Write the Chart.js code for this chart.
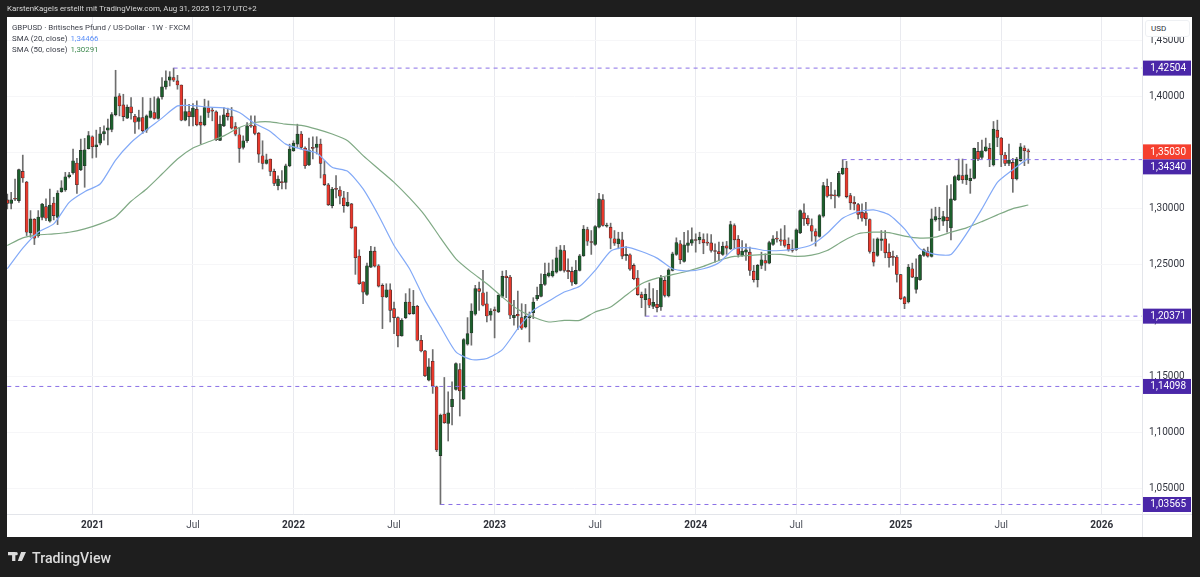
<!DOCTYPE html>
<html>
<head>
<meta charset="utf-8">
<title>GBPUSD 1W</title>
<script src="https://cdn.jsdelivr.net/npm/chart.js@4"></script>
<style>
    html, body { margin: 0; padding: 0; background: #1e1e1e; overflow: hidden; }
    #wrap { position: relative; width: 1200px; height: 577px; font-family: Roboto, sans-serif; }
    #wrap canvas { position: absolute; left: 0; top: 0; }
    .txt { position: absolute; white-space: nowrap; }
    #credit { left: 7px; top: 3px; font-size: 7.9px; line-height: 12px; color: #d8d8d8; }
    .leg { left: 12px; font-size: 7.9px; line-height: 11px; color: #3a3d47; }
    .leg span { margin-left: 3px; }
    #usd { left: 1145px; top: 20px; width: 45px; height: 17px; box-sizing: border-box; background: #fff;
           border: 1px solid #eef0f3; border-radius: 3px; color: #2e3038; font-size: 8px; line-height: 15px; padding-left: 5px; }
    #logo { left: 32px; top: 548px; font-size: 14.2px; line-height: 20px; font-weight: 500; color: #dcdcdc; }
    #mark { position: absolute; left: 8px; top: 552px; }
</style>
</head>
<body>
<div id="wrap">
    <canvas id="gbpChart" width="1200" height="577"></canvas>
    <div class="txt" id="credit">KarstenKagels erstellt mit TradingView.com, Aug 31, 2025 12:17 UTC+2</div>
    <div class="txt leg" style="top:22px">GBPUSD · Britisches Pfund / US-Dollar · 1W · FXCM</div>
    <div class="txt leg" style="top:33px">SMA (20, close)<span style="color:#5b8ff9">1,34466</span></div>
    <div class="txt leg" style="top:44px">SMA (50, close)<span style="color:#3f8a50">1,30291</span></div>
    <div class="txt" id="usd">USD</div>
    <svg id="mark" width="18" height="10" viewBox="0 0 22 12"><path fill="#dcdcdc" d="M0 0h9v11H5V4H0zM10 0a2 2 0 1 1 0 4a2 2 0 1 1 0-4M16 0h6l-5 11h-5z"/></svg>
    <div class="txt" id="logo">TradingView</div>
</div>

<script>
// Weekly candles (week 0 is the first bar at the left edge)
const opens = [
    1.3074,1.3044,1.3086,1.3068,1.3329,1.3234,1.2780,1.2902,1.2756,1.2919,
    1.3014,1.2884,1.3047,1.2919,1.3148,1.3163,1.3281,1.3317,1.3403,1.3344,
    1.3379,1.3531,1.3638,1.3549,1.3581,1.3664,1.3697,1.3703,1.3836,1.4002,
    1.3922,1.3804,1.3905,1.3821,1.3774,1.3810,1.3697,1.3810,1.3854,1.3801,
    1.3994,1.4083,1.4142,1.4166,1.4136,1.4100,1.3786,1.3863,1.3815,1.3884,
    1.3768,1.3744,1.3896,1.3869,1.3860,1.3605,1.3735,1.3848,1.3818,1.3729,
    1.3655,1.3543,1.3602,1.3735,1.3735,1.3670,1.3468,1.3400,1.3439,1.3329,
    1.3201,1.3231,1.3231,1.3379,1.3513,1.3572,1.3662,1.3537,1.3386,1.3537,
    1.3543,1.3573,1.3300,1.3208,1.3024,1.3172,1.3163,1.3092,1.3024,1.3039,
    1.2834,1.2573,1.2344,1.2231,1.2475,1.2617,1.2487,1.2311,1.2208,1.2273,
    1.2104,1.2024,1.1861,1.2024,1.2163,1.2060,1.2125,1.1822,1.1727,1.1466,
    1.1635,1.1407,1.0793,1.1164,1.1080,1.1229,1.1383,1.1561,1.1297,1.1786,
    1.1887,1.2054,1.2282,1.2246,1.2148,1.2045,1.2089,1.2074,1.2214,1.2395,
    1.2386,1.2024,1.2054,1.2024,1.1941,1.2024,1.2068,1.2193,1.2214,1.2321,
    1.2395,1.2395,1.2430,1.2445,1.2623,1.2445,1.2436,1.2327,1.2445,1.2576,
    1.2810,1.2698,1.2677,1.2831,1.3077,1.2840,1.2831,1.2727,1.2683,1.2718,
    1.2576,1.2585,1.2490,1.2377,1.2229,1.2184,1.2193,1.2125,1.2143,1.2119,
    1.2356,1.2217,1.2445,1.2588,1.2683,1.2525,1.2668,1.2689,1.2721,1.2718,
    1.2721,1.2691,1.2691,1.2623,1.2614,1.2588,1.2665,1.2638,1.2846,1.2724,
    1.2579,1.2608,1.2608,1.2439,1.2362,1.2490,1.2534,1.2510,1.2677,1.2727,
    1.2718,1.2718,1.2677,1.2638,1.2632,1.2780,1.2958,1.2911,1.2846,1.2792,
    1.2748,1.2929,1.3196,1.3119,1.3113,1.3107,1.3306,1.3359,1.3113,1.3053,
    1.3033,1.2964,1.2958,1.2899,1.2608,1.2579,1.2712,1.2727,1.2608,1.2564,
    1.2564,1.2407,1.2202,1.2163,1.2460,1.2276,1.2362,1.2579,1.2614,1.2570,
    1.2896,1.2902,1.2884,1.2920,1.2825,1.3074,1.3255,1.3291,1.3252,1.3246,
    1.3267,1.3507,1.3454,1.3513,1.3534,1.3386,1.3697,1.3626,1.3475,1.3400,
    1.3409,1.3261,1.3424,1.3537,1.3510
];
const closes = [
    1.3044,1.3074,1.3080,1.3344,1.3270,1.2786,1.2905,1.2733,1.2922,1.3038,
    1.2911,1.3029,1.2934,1.3136,1.3181,1.3281,1.3299,1.3424,1.3210,1.3516,
    1.3522,1.3649,1.3549,1.3566,1.3664,1.3685,1.3718,1.3836,1.3994,1.3913,
    1.3818,1.3902,1.3851,1.3768,1.3810,1.3691,1.3824,1.3869,1.3801,1.3979,
    1.4083,1.4136,1.4172,1.4142,1.4100,1.3786,1.3863,1.3818,1.3893,1.3744,
    1.3741,1.3899,1.3854,1.3866,1.3611,1.3750,1.3833,1.3818,1.3715,1.3661,
    1.3534,1.3602,1.3735,1.3732,1.3667,1.3483,1.3400,1.3433,1.3329,1.3222,
    1.3261,1.3228,1.3379,1.3528,1.3581,1.3661,1.3543,1.3380,1.3519,1.3534,
    1.3573,1.3401,1.3211,1.3030,1.3172,1.3169,1.3107,1.3024,1.3053,1.2825,
    1.2558,1.2326,1.2252,1.2487,1.2617,1.2484,1.2305,1.2208,1.2273,1.2089,
    1.2024,1.1861,1.2000,1.2163,1.2060,1.2125,1.1822,1.1727,1.1505,1.1585,
    1.1413,1.0843,1.1155,1.1086,1.1175,1.1294,1.1614,1.1371,1.1828,1.1881,
    1.2083,1.2282,1.2258,1.2134,1.2039,1.2083,1.2086,1.2223,1.2392,1.2380,
    1.2045,1.2045,1.2039,1.1929,1.2036,1.2027,1.2163,1.2223,1.2321,1.2410,
    1.2424,1.2440,1.2558,1.2629,1.2445,1.2433,1.2341,1.2445,1.2576,1.2813,
    1.2706,1.2694,1.2837,1.3083,1.2846,1.2846,1.2733,1.2689,1.2727,1.2573,
    1.2588,1.2457,1.2371,1.2229,1.2202,1.2232,1.2134,1.2160,1.2113,1.2380,
    1.2223,1.2451,1.2594,1.2694,1.2540,1.2673,1.2691,1.2721,1.2712,1.2742,
    1.2691,1.2688,1.2623,1.2614,1.2594,1.2659,1.2644,1.2855,1.2718,1.2588,
    1.2617,1.2629,1.2445,1.2362,1.2490,1.2540,1.2510,1.2694,1.2727,1.2724,
    1.2706,1.2668,1.2629,1.2623,1.2807,1.2979,1.2905,1.2861,1.2795,1.2751,
    1.2935,1.3202,1.3107,1.3113,1.3110,1.3312,1.3359,1.3104,1.3048,1.3039,
    1.2944,1.2911,1.2905,1.2614,1.2519,1.2727,1.2727,1.2602,1.2558,1.2561,
    1.2410,1.2193,1.2148,1.2475,1.2386,1.2386,1.2579,1.2629,1.2573,1.2905,
    1.2926,1.2908,1.2926,1.2890,1.3083,1.3282,1.3297,1.3255,1.3297,1.3267,
    1.3534,1.3439,1.3513,1.3549,1.3433,1.3706,1.3632,1.3475,1.3400,1.3430,
    1.3261,1.3439,1.3549,1.3513,1.3503
];
const highs = [
    1.3127,1.3142,1.3261,1.3350,1.3474,1.3240,1.2979,1.2908,1.2979,1.3044,
    1.3083,1.3172,1.3098,1.3157,1.3246,1.3320,1.3320,1.3528,1.3445,1.3617,
    1.3623,1.3685,1.3646,1.3697,1.3721,1.3735,1.3795,1.3854,1.4231,1.4023,
    1.4017,1.3922,1.3988,1.3839,1.3875,1.3988,1.3833,1.3982,1.3994,1.3994,
    1.4166,1.4225,1.4219,1.42504,1.4186,1.4100,1.3973,1.3928,1.3934,1.3958,
    1.3824,1.3973,1.3958,1.3899,1.3869,1.3824,1.3899,1.3893,1.3899,1.3765,
    1.3721,1.3646,1.3765,1.3824,1.3824,1.3676,1.3602,1.3483,1.3439,1.3350,
    1.3290,1.3335,1.3394,1.3572,1.3602,1.3750,1.3685,1.3549,1.3626,1.3638,
    1.3638,1.3617,1.3424,1.3222,1.3187,1.3291,1.3193,1.3151,1.3142,1.3044,
    1.2834,1.2629,1.2344,1.2510,1.2659,1.2653,1.2498,1.2326,1.2326,1.2326,
    1.2163,1.2030,1.2015,1.2238,1.2282,1.2267,1.2134,1.1867,1.1733,1.1659,
    1.1739,1.1413,1.1164,1.1490,1.1362,1.1451,1.1620,1.1614,1.1837,1.2024,
    1.2148,1.2312,1.2341,1.2445,1.2252,1.2104,1.2119,1.2229,1.2439,1.2445,
    1.2401,1.2178,1.2261,1.2148,1.2142,1.2074,1.2202,1.2297,1.2415,1.2510,
    1.2511,1.2540,1.2653,1.2668,1.2668,1.2549,1.2475,1.2534,1.2588,1.2846,
    1.2831,1.2801,1.2846,1.3134,1.3122,1.2867,1.2867,1.2801,1.2786,1.2786,
    1.2658,1.2594,1.2504,1.2445,1.2252,1.2282,1.2333,1.2282,1.2267,1.2401,
    1.2386,1.2460,1.2608,1.2736,1.2712,1.2786,1.2801,1.2825,1.2772,1.2786,
    1.2772,1.2772,1.2765,1.2683,1.2698,1.2698,1.2704,1.2884,1.2861,1.2757,
    1.2712,1.2683,1.2653,1.2490,1.2499,1.2608,1.2593,1.2706,1.2757,1.2792,
    1.2816,1.2846,1.2736,1.2718,1.2816,1.2985,1.3039,1.2935,1.2905,1.2816,
    1.2944,1.3231,1.3261,1.3231,1.3163,1.3329,1.3434,1.3418,1.3133,1.3104,
    1.3044,1.3039,1.3053,1.2905,1.2727,1.2736,1.2801,1.2801,1.2682,1.2617,
    1.2579,1.2410,1.2214,1.2499,1.2510,1.2549,1.2588,1.2638,1.2653,1.2994,
    1.3009,1.3009,1.2973,1.3202,1.3211,1.3291,1.3439,1.3439,1.3394,1.3350,
    1.3537,1.3587,1.3608,1.3626,1.3578,1.3774,1.3786,1.3632,1.3498,1.3572,
    1.3445,1.3454,1.3578,1.3558,1.3528
];
const lows = [
    1.2994,1.2994,1.3068,1.3053,1.3231,1.2756,1.2741,1.2676,1.2741,1.2896,
    1.2890,1.2875,1.2896,1.2854,1.3142,1.3151,1.3270,1.3305,1.3133,1.3335,
    1.3187,1.3528,1.3448,1.3454,1.3566,1.3608,1.3566,1.3682,1.3824,1.3824,
    1.3780,1.3800,1.3795,1.3667,1.3706,1.3667,1.3676,1.3804,1.3795,1.3795,
    1.3973,1.4062,1.4091,1.4130,1.4062,1.3780,1.3780,1.3735,1.3735,1.3735,
    1.3572,1.3735,1.3810,1.3780,1.3602,1.3602,1.3727,1.3786,1.3706,1.3646,
    1.3409,1.3528,1.3587,1.3721,1.3655,1.3409,1.3350,1.3394,1.3290,1.3201,
    1.3163,1.3172,1.3172,1.3370,1.3507,1.3543,1.3528,1.3356,1.3380,1.3439,
    1.3484,1.3270,1.3202,1.3024,1.3003,1.3092,1.3039,1.2964,1.3015,1.2816,
    1.2410,1.2320,1.2148,1.2223,1.2469,1.2475,1.2297,1.1926,1.2202,1.1985,
    1.1881,1.1763,1.1858,1.2015,1.2051,1.2054,1.1816,1.1718,1.1496,1.1460,
    1.1348,1.0828,1.03565,1.1080,1.0923,1.1066,1.1377,1.1146,1.1294,1.1778,
    1.1778,1.2045,1.2089,1.2128,1.1985,1.2000,1.1843,1.2068,1.2202,1.2202,
    1.2015,1.1956,1.1917,1.1917,1.1932,1.1807,1.2015,1.2178,1.2208,1.2312,
    1.2386,1.2386,1.2421,1.2440,1.2430,1.2371,1.2312,1.2321,1.2440,1.2570,
    1.2668,1.2588,1.2668,1.2825,1.2840,1.2831,1.2638,1.2668,1.2638,1.2549,
    1.2534,1.2445,1.2362,1.2223,1.2113,1.20371,1.2113,1.2104,1.2075,1.2089,
    1.2208,1.2208,1.2440,1.2579,1.2504,1.2519,1.2608,1.2668,1.2608,1.2683,
    1.2594,1.2668,1.2608,1.2519,1.2534,1.2579,1.2588,1.2632,1.2638,1.2564,
    1.2570,1.2534,1.2401,1.2341,1.2297,1.2460,1.2445,1.2504,1.2668,1.2697,
    1.2668,1.2653,1.2617,1.2608,1.2623,1.2772,1.2846,1.2846,1.2706,1.2662,
    1.2742,1.2920,1.3098,1.3083,1.3003,1.3098,1.3300,1.3092,1.2989,1.2985,
    1.2905,1.2884,1.2846,1.2599,1.2484,1.2570,1.2623,1.2558,1.2475,1.2490,
    1.2341,1.2184,1.2104,1.2154,1.2380,1.2243,1.2356,1.2570,1.2564,1.2564,
    1.2884,1.2801,1.2846,1.2786,1.2718,1.3068,1.3246,1.3222,1.3211,1.3133,
    1.3261,1.3424,1.3439,1.3507,1.3371,1.3377,1.3549,1.3371,1.3380,1.3380,
    1.3142,1.3252,1.3418,1.3380,1.3400
];

// Moving averages, read every fourth week
const smaWeeks = [
    0,4,8,12,16,20,24,28,32,36,40,44,48,52,56,60,64,68,72,76,80,84,88,92,96,100,104,108,112,116,120,124,128,
    132,136,140,144,148,152,156,160,164,168,172,176,180,184,188,192,196,200,204,208,212,216,220,224,228,232,
    236,240,244,248,252,256,260,264
];
const sma20 = [
    1.2460,1.2644,1.2786,1.2860,1.3053,1.3148,1.3216,1.3430,1.3587,1.3700,1.3804,1.3913,1.3916,1.3902,1.3896,
    1.3854,1.3756,1.3685,1.3572,1.3528,1.3492,1.3365,1.3329,1.3172,1.2935,1.2668,1.2460,1.2180,1.1945,1.1718,
    1.1650,1.1659,1.1739,1.1926,1.2089,1.2172,1.2252,1.2303,1.2445,1.2617,1.2653,1.2614,1.2555,1.2460,1.2440,
    1.2460,1.2514,1.2638,1.2647,1.2623,1.2623,1.2638,1.2674,1.2777,1.2911,1.2970,1.2985,1.2941,1.2816,1.2638,
    1.2588,1.2588,1.2771,1.2994,1.3231,1.3344,1.34466
];
const sma50 = [
    1.2667,1.2736,1.2762,1.2771,1.2786,1.2816,1.2860,1.2925,1.3062,1.3172,1.3305,1.3439,1.3537,1.3593,1.3646,
    1.3721,1.3765,1.3771,1.3750,1.3739,1.3706,1.3662,1.3602,1.3469,1.3350,1.3231,1.3092,1.2935,1.2736,1.2549,
    1.2430,1.2326,1.2208,1.2098,1.2030,1.1985,1.2000,1.2000,1.2074,1.2119,1.2223,1.2327,1.2377,1.2407,1.2440,
    1.2481,1.2534,1.2570,1.2579,1.2588,1.2588,1.2570,1.2582,1.2623,1.2706,1.2772,1.2786,1.2783,1.2751,1.2733,
    1.2742,1.2786,1.2825,1.2881,1.2941,1.2997,1.30291
];

// Time axis
const tickWeeks = [22, 48, 74, 100, 126, 152, 178, 204, 231, 257, 283];
const tickLabels = ['2021', 'Jul', '2022', 'Jul', '2023', 'Jul', '2024', 'Jul', '2025', 'Jul', '2026'];

// Price axis
const priceTicks = [1.05, 1.10, 1.15, 1.20, 1.25, 1.30, 1.35, 1.40, 1.45];

// Dashed levels with the week they start from
const levelValues = [1.42504, 1.34340, 1.20371, 1.14098, 1.03565];
const levelStarts = [43, 216, 165, 0, 112];

// Price tags on the right axis, drawn top to bottom
const tagValues = [1.42504, 1.35030, 1.34340, 1.20371, 1.14098, 1.03565];
const tagColors = ['#4a27a8', '#f5402f', '#4a27a8', '#4a27a8', '#4a27a8', '#4a27a8'];

const weekMax = 293.4;
const upColor = '#1c5f2c';
const downColor = '#e8382c';
const weeks = opens.map((o, i) => i);

function comma(v) {
    return v.toFixed(5).replace('.', ',');
}

// White panel behind the chart, axis separators
const panelPlugin = {
    id: 'panel',
    beforeDraw(chart) {
        const ctx = chart.ctx, a = chart.chartArea;
        ctx.save();
        ctx.fillStyle = '#ffffff';
        ctx.fillRect(a.left, a.top, 1185, 520);
        ctx.strokeStyle = '#e3e5ea';
        ctx.lineWidth = 1;
        ctx.beginPath();
        ctx.moveTo(a.right + 0.5, a.top);
        ctx.lineTo(a.right + 0.5, a.top + 520);
        ctx.moveTo(a.left, a.bottom + 0.5);
        ctx.lineTo(a.left + 1185, a.bottom + 0.5);
        ctx.stroke();
        ctx.restore();
    }
};

// Boxes with the level values, second of two close ones is pushed down
const tagPlugin = {
    id: 'tags',
    afterDraw(chart) {
        const ctx = chart.ctx, y = chart.scales.y, a = chart.chartArea;
        let last = -100;
        ctx.save();
        ctx.textAlign = 'right';
        ctx.textBaseline = 'middle';
        ctx.font = '10px Roboto';
        tagValues.forEach((v, i) => {
            const cy = Math.max(y.getPixelForValue(v), last + 15);
            last = cy;
            ctx.fillStyle = tagColors[i];
            ctx.fillRect(a.right + 1, cy - 7.5, 48, 15);
            ctx.fillStyle = '#ffffff';
            ctx.fillText(comma(v), a.right + 44, cy + 0.5);
        });
        ctx.restore();
    }
};

const levelSets = levelValues.map((v, i) => ({
    type: 'line',
    data: [{ x: levelStarts[i], y: v }, { x: weekMax, y: v }],
    borderColor: '#8a70e6',
    borderWidth: 1,
    borderDash: [4, 4],
    pointRadius: 0,
    order: 3
}));

new Chart(document.getElementById('gbpChart'), {
    type: 'bar',
    data: {
        datasets: [
            // wicks
            {
                data: weeks.map(i => ({ x: i, y: [lows[i], highs[i]] })),
                backgroundColor: '#6e6e6e',
                barThickness: 1,
                grouped: false,
                order: 5
            },
            // bodies
            {
                data: weeks.map(i => ({ x: i, y: [opens[i], closes[i]] })),
                backgroundColor: weeks.map(i => closes[i] >= opens[i] ? upColor : downColor),
                borderColor: '#2b2b2b',
                borderWidth: 0.6,
                borderSkipped: false,
                barThickness: 3,
                minBarLength: 1,
                grouped: false,
                order: 4
            },
            ...levelSets,
            {
                type: 'line',
                data: smaWeeks.map((w, i) => ({ x: w, y: sma20[i] })),
                borderColor: '#82a9f7',
                borderWidth: 1.2,
                pointRadius: 0,
                tension: 0.2,
                order: 1
            },
            {
                type: 'line',
                data: smaWeeks.map((w, i) => ({ x: w, y: sma50[i] })),
                borderColor: '#7fa984',
                borderWidth: 1.2,
                pointRadius: 0,
                tension: 0.2,
                order: 2
            }
        ]
    },
    options: {
        responsive: false,
        animation: false,
        events: [],
        layout: { padding: { left: 7, right: 8, top: 17, bottom: 63 } },
        plugins: { legend: { display: false }, tooltip: { enabled: false } },
        scales: {
            x: {
                type: 'linear',
                offset: false,
                min: -0.08,
                max: weekMax,
                afterBuildTicks(scale) {
                    scale.ticks = tickWeeks.map(w => ({ value: w }));
                },
                afterFit(scale) {
                    scale.height = 0;
                },
                grid: { offset: false, color: '#e9eaef', lineWidth: 1, drawTicks: false },
                border: { display: false },
                ticks: {
                    autoSkip: false,
                    maxRotation: 0,
                    display: false
                }
            },
            y: {
                position: 'right',
                min: 1.02717,
                max: 1.47064,
                afterBuildTicks(scale) {
                    scale.ticks = priceTicks.map(v => ({ value: v }));
                },
                afterFit(scale) {
                    scale.width = 50;
                },
                grid: { color: '#f6f6f8', lineWidth: 1, drawTicks: false },
                border: { display: false },
                ticks: {
                    padding: 7,
                    color: '#333640',
                    font: { family: 'Roboto', size: 10 },
                    callback: v => comma(v)
                }
            }
        }
    },
    plugins: [panelPlugin, tagPlugin, {
        // time labels sit in the strip under the plot
        id: 'timeLabels',
        afterDraw(chart) {
            const ctx = chart.ctx, x = chart.scales.x, a = chart.chartArea;
            ctx.save();
            ctx.textAlign = 'center';
            ctx.textBaseline = 'middle';
            tickWeeks.forEach((w, i) => {
                const isYear = tickLabels[i] !== 'Jul';
                ctx.font = (isYear ? 'bold ' : '') + '10px Roboto';
                ctx.fillStyle = isYear ? '#2e3038' : '#4a4d57';
                ctx.fillText(tickLabels[i], x.getPixelForValue(w), a.bottom + 11.5);
            });
            ctx.restore();
        }
    }]
});
</script>
</body>
</html>
